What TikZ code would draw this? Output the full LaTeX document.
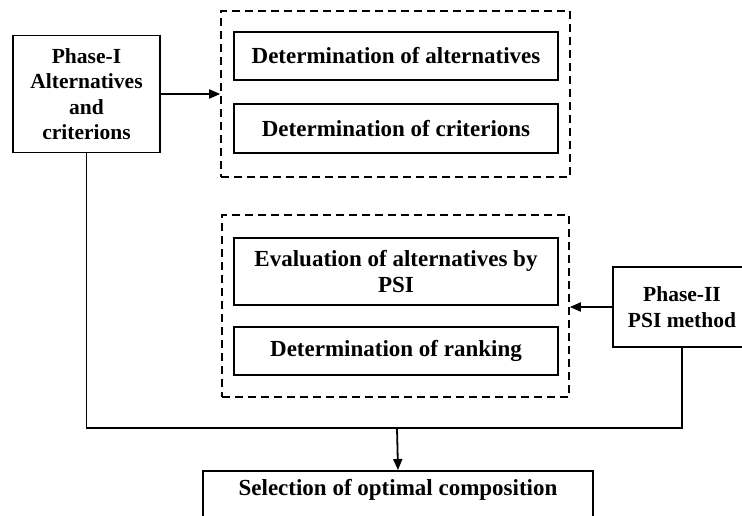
\documentclass[tikz,border=0pt]{standalone}
\usepackage{fontspec}
\setmainfont{Liberation Serif}
\usetikzlibrary{arrows.meta}
\tikzset{
  stepbox/.style={draw, line width=1.8pt, align=center, inner sep=0pt,
    font=\fontsize{23}{26}\selectfont\bfseries},
  phasebox/.style={stepbox, font=\fontsize{21.5}{25.5}\selectfont\bfseries},
  groupbox/.style={draw, line width=1.6pt, dash pattern=on 8pt off 5pt, inner sep=0pt},
  flow/.style={line width=1.8pt, -{Triangle[length=11pt,width=9pt]}}
}
\begin{document}
\begin{tikzpicture}[x=1pt,y=-1pt]
  \clip (0,0) rectangle (742,516);
  \fill[white] (0,0) rectangle (742,516);
  \node[phasebox, minimum width=147, minimum height=117] (p1) at (86.5,94)
    {Phase-I\\Alternatives\\and\\criterions};
  \node[groupbox, minimum width=349, minimum height=166] (g1) at (395.5,94) {};
  \node[stepbox, minimum width=324, minimum height=48] (alt) at (396,56)
    {Determination of alternatives};
  \node[stepbox, minimum width=324, minimum height=49] (crit) at (396,128.5)
    {Determination of criterions};
  \node[groupbox, minimum width=347, minimum height=182] (g2) at (395.5,306) {};
  \node[stepbox, minimum width=324, minimum height=67] (eval) at (396,271.5)
    {Evaluation of alternatives by\\PSI};
  \node[stepbox, minimum width=324, minimum height=48] (rank) at (396,351)
    {Determination of ranking};
  \node[phasebox, minimum width=138, minimum height=80] (p2) at (682,307)
    {Phase-II\\PSI method};
  \node[stepbox, minimum width=390, text height=25pt, text depth=25pt] (sel) at (398,470)
    [anchor=north] {Selection of optimal composition};
  \coordinate (join) at (397,428);
  \begin{scope}[line width=1.8pt]
    \draw[flow] (p1.east) -- (p1.east -| g1.west);
    \draw[flow] (p2.west) -- (p2.west -| g2.east);
    \draw (p1.south) |- (join) -| (p2.south);
    \draw[flow] (join) -- (sel.north);
  \end{scope}
\end{tikzpicture}
\end{document}
